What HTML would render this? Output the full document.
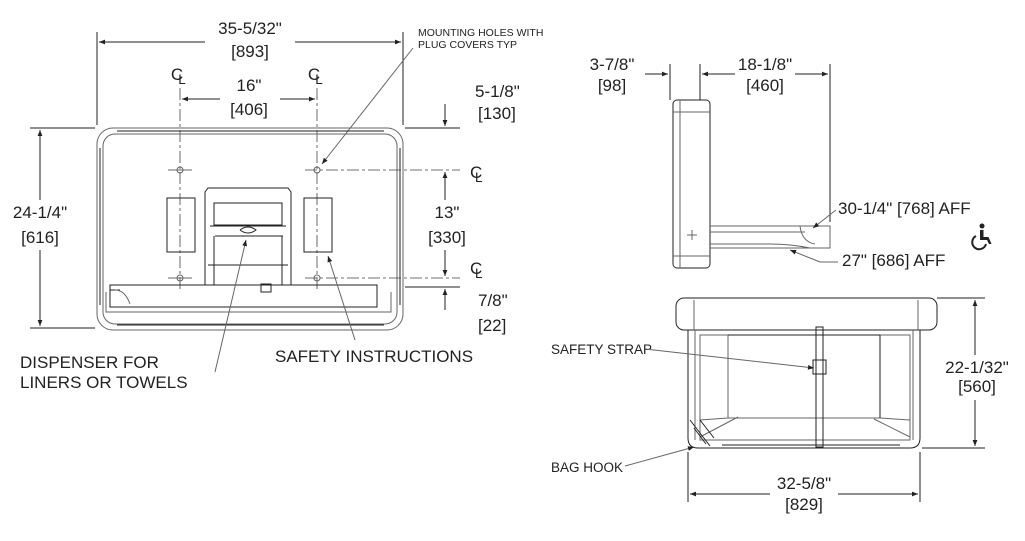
<!DOCTYPE html>
<html><head><meta charset="utf-8"><style>
body{margin:0;background:#fff}
svg{display:block}
text{font-family:"Liberation Sans",sans-serif;fill:#222}
.t{font-size:17px}
.s{font-size:13.5px}
.xs{font-size:10.5px}
.l{stroke:#222;stroke-width:1;fill:none}
.g{stroke:#666;stroke-width:1;fill:none}
.c{stroke:#444;stroke-width:0.8;fill:none;stroke-dasharray:12 3 3 3}
</style></head><body>
<svg width="1025" height="541" viewBox="0 0 1025 541" xmlns="http://www.w3.org/2000/svg">
<defs><marker id="a" viewBox="0 0 10 10" refX="10" refY="5" markerWidth="9" markerHeight="6" orient="auto-start-reverse"><path d="M0,1 L10,5 L0,9z" fill="#222"/></marker></defs>

<!-- FRONT VIEW -->
<text class="t" x="250" y="34" text-anchor="middle">35-5/32"</text>
<text class="t" x="250" y="57" text-anchor="middle">[893]</text>
<line class="l" x1="97" y1="32" x2="97" y2="125"/><line class="l" x1="403" y1="32" x2="403" y2="125"/>
<line class="l" x1="99" y1="42" x2="205" y2="42" marker-start="url(#a)"/><line class="l" x1="295" y1="42" x2="401" y2="42" marker-end="url(#a)"/>

<text class="t" x="177" y="80" text-anchor="middle">C</text><text class="s" x="182" y="84" text-anchor="middle">L</text>
<text class="t" x="314" y="80" text-anchor="middle">C</text><text class="s" x="319" y="84" text-anchor="middle">L</text>
<text class="t" x="249" y="91" text-anchor="middle">16"</text>
<text class="t" x="249" y="115" text-anchor="middle">[406]</text>
<line class="l" x1="182" y1="99" x2="220" y2="99" marker-start="url(#a)"/><line class="l" x1="280" y1="99" x2="315" y2="99" marker-end="url(#a)"/>
<line class="c" x1="180" y1="88" x2="180" y2="290"/><line class="c" x1="317" y1="88" x2="317" y2="290"/>

<text class="t" x="475" y="97">5-1/8"</text><text class="t" x="478" y="119">[130]</text>
<line class="l" x1="405" y1="128" x2="460" y2="128"/>
<line class="l" x1="445" y1="104" x2="445" y2="126" marker-end="url(#a)"/>

<text class="xs" x="418" y="36">MOUNTING HOLES WITH</text><text class="xs" x="418" y="48">PLUG COVERS TYP</text>
<line class="g" x1="413" y1="48" x2="322" y2="164" marker-end="url(#a)"/>

<text class="t" x="40" y="218" text-anchor="middle">24-1/4"</text><text class="t" x="40" y="243" text-anchor="middle">[616]</text>
<line class="l" x1="30" y1="128" x2="95" y2="128"/><line class="l" x1="30" y1="328" x2="95" y2="328"/>
<line class="l" x1="40" y1="130" x2="40" y2="200" marker-start="url(#a)"/><line class="l" x1="40" y1="250" x2="40" y2="326" marker-end="url(#a)"/>

<!-- body -->
<rect class="g" x="97" y="128" width="306" height="202" rx="16"/>
<rect class="g" x="103" y="134" width="294" height="190" rx="12"/>
<line class="l" x1="117" y1="131" x2="384" y2="131" stroke-width="2"/>
<line class="l" x1="117" y1="325" x2="384" y2="325" stroke-width="2"/>
<line class="l" x1="100" y1="148" x2="100" y2="305" stroke-width="1.5"/>
<line class="l" x1="400" y1="148" x2="400" y2="305" stroke-width="1.5"/>
<rect class="l" x="167" y="198" width="28" height="54"/>
<rect class="l" x="304" y="198" width="28" height="54"/>
<path class="l" d="M205,285 V192 l3,-4 h80 l3,4 V285"/>
<rect class="l" x="214" y="203" width="68" height="22"/>
<path class="l" d="M210,226 h76 M215,236 h68 M208,265 h80 M214,236 V285 M282,236 V285"/>
<path class="l" d="M240,230 q8,-6 16,0 q-8,6 -16,0" />
<path class="l" d="M110,285 h267 v22 h-267 z M120,290 h-10"/>
<path class="g" d="M106,292 v20 h285 v-20 M115,290 q10,0 15,14"/>
<rect class="l" x="261" y="284" width="10" height="8"/>
<g class="g">
<circle cx="180" cy="170" r="3"/><circle cx="317" cy="170" r="3"/><circle cx="180" cy="278" r="3"/><circle cx="317" cy="278" r="3"/>
<line x1="168" y1="170" x2="192" y2="170"/><line x1="168" y1="278" x2="192" y2="278"/>
</g>
<line class="c" x1="305" y1="170" x2="460" y2="170"/><line class="c" x1="305" y1="278" x2="460" y2="278"/>
<text class="t" x="470" y="178">C</text><text class="s" x="475" y="182">L</text>
<text class="t" x="470" y="274">C</text><text class="s" x="475" y="278">L</text>
<text class="t" x="447" y="218" text-anchor="middle">13"</text><text class="t" x="447" y="243" text-anchor="middle">[330]</text>
<line class="l" x1="445" y1="172" x2="445" y2="200" marker-start="url(#a)"/><line class="l" x1="445" y1="250" x2="445" y2="276" marker-end="url(#a)"/>
<line class="l" x1="405" y1="287" x2="460" y2="287"/>
<line class="l" x1="445" y1="310" x2="445" y2="289" marker-end="url(#a)"/>
<text class="t" x="478" y="306">7/8"</text><text class="t" x="478" y="331">[22]</text>

<text class="t" x="20" y="368">DISPENSER FOR</text><text class="t" x="20" y="388">LINERS OR TOWELS</text>
<line class="g" x1="215" y1="372" x2="246" y2="240" marker-end="url(#a)"/>
<text class="t" x="275" y="362">SAFETY INSTRUCTIONS</text>
<line class="g" x1="355" y1="340" x2="328" y2="256" marker-end="url(#a)"/>

<!-- SIDE VIEW -->
<text class="t" x="612" y="70" text-anchor="middle">3-7/8"</text><text class="t" x="612" y="91" text-anchor="middle">[98]</text>
<line class="l" x1="645" y1="74" x2="668" y2="74" marker-end="url(#a)"/>
<line class="l" x1="670" y1="64" x2="670" y2="100"/><line class="l" x1="700" y1="64" x2="700" y2="100"/>
<text class="t" x="765" y="70" text-anchor="middle">18-1/8"</text><text class="t" x="765" y="91" text-anchor="middle">[460]</text>
<line class="l" x1="702" y1="74" x2="735" y2="74" marker-start="url(#a)"/><line class="l" x1="795" y1="74" x2="828" y2="74" marker-end="url(#a)"/>
<line class="l" x1="830" y1="64" x2="830" y2="222"/>
<rect class="l" x="673" y="100" width="37" height="168" rx="4"/>
<line class="g" x1="680" y1="100" x2="680" y2="268"/><line class="g" x1="673" y1="112" x2="710" y2="112"/><line class="g" x1="673" y1="256" x2="710" y2="256"/>
<path class="g" d="M687,235 h10 M692,230 v10"/>
<path class="g" d="M710,226 h120 v22 h-120 M710,232 h95 M710,244 h60 q20,0 40,4"/>
<path class="g" d="M800,226 q2,16 15,18"/>
<text class="t" x="838" y="214">30-1/4" [768] AFF</text>
<line class="g" x1="836" y1="210" x2="813" y2="228" marker-end="url(#a)"/>
<text class="t" x="842" y="266">27" [686] AFF</text>
<line class="g" x1="838" y1="262" x2="820" y2="262"/><line class="g" x1="820" y1="262" x2="790" y2="250" marker-end="url(#a)"/>
<g fill="#222"><circle cx="982" cy="226" r="2.5"/><path d="M980,230 h3.5 v7 h5 l3,7 h-2.5 l-2,-4 h-7z"/><path d="M976,236 a7,7 0 1,0 10,8" stroke="#222" stroke-width="2" fill="none"/></g>

<!-- BOTTOM VIEW -->
<rect class="l" x="676" y="298" width="261" height="32" rx="8"/>
<line class="g" x1="694" y1="300" x2="694" y2="330"/><line class="g" x1="918" y1="300" x2="918" y2="330"/>
<path class="l" d="M688,330 V438 q0,10 10,10 H910 q10,0 10,-10 V330"/>
<line class="g" x1="695" y1="330" x2="695" y2="440"/><line class="g" x1="913" y1="330" x2="913" y2="440"/>
<rect class="g" x="700" y="335" width="210" height="105"/>
<path class="g" d="M728,335 V418 H880 V335 M700,420 l28,-2 M910,420 l-30,-2 M700,437 l38,-20 M910,437 l-36,-18"/>
<line class="l" x1="728" y1="335" x2="880" y2="335" stroke-width="1.5"/>
<line class="l" x1="880" y1="335" x2="880" y2="418"/>
<line class="l" x1="722" y1="445" x2="900" y2="445" stroke-width="1.5"/>
<rect class="l" x="816" y="327" width="7" height="120"/>
<rect class="l" x="813" y="360" width="13" height="14"/>
<path class="l" d="M690,420 l20,26 M694,428 l12,16 M700,420 l14,18" />
<text class="s" x="551" y="354">SAFETY STRAP</text>
<line class="g" x1="645" y1="349" x2="814" y2="368" marker-end="url(#a)"/>
<text class="s" x="551" y="472">BAG HOOK</text>
<line class="g" x1="625" y1="466" x2="694" y2="447" marker-end="url(#a)"/>
<text class="t" x="977" y="373" text-anchor="middle">22-1/32"</text><text class="t" x="977" y="392" text-anchor="middle">[560]</text>
<line class="l" x1="937" y1="298" x2="985" y2="298"/><line class="l" x1="922" y1="448" x2="985" y2="448"/>
<line class="l" x1="975" y1="300" x2="975" y2="355" marker-start="url(#a)"/><line class="l" x1="975" y1="400" x2="975" y2="446" marker-end="url(#a)"/>
<line class="l" x1="688" y1="452" x2="688" y2="502"/><line class="l" x1="920" y1="452" x2="920" y2="502"/>
<line class="l" x1="690" y1="494" x2="770" y2="494" marker-start="url(#a)"/><line class="l" x1="838" y1="494" x2="918" y2="494" marker-end="url(#a)"/>
<text class="t" x="804" y="489" text-anchor="middle">32-5/8"</text><text class="t" x="804" y="510" text-anchor="middle">[829]</text>
</svg>
</body></html>
